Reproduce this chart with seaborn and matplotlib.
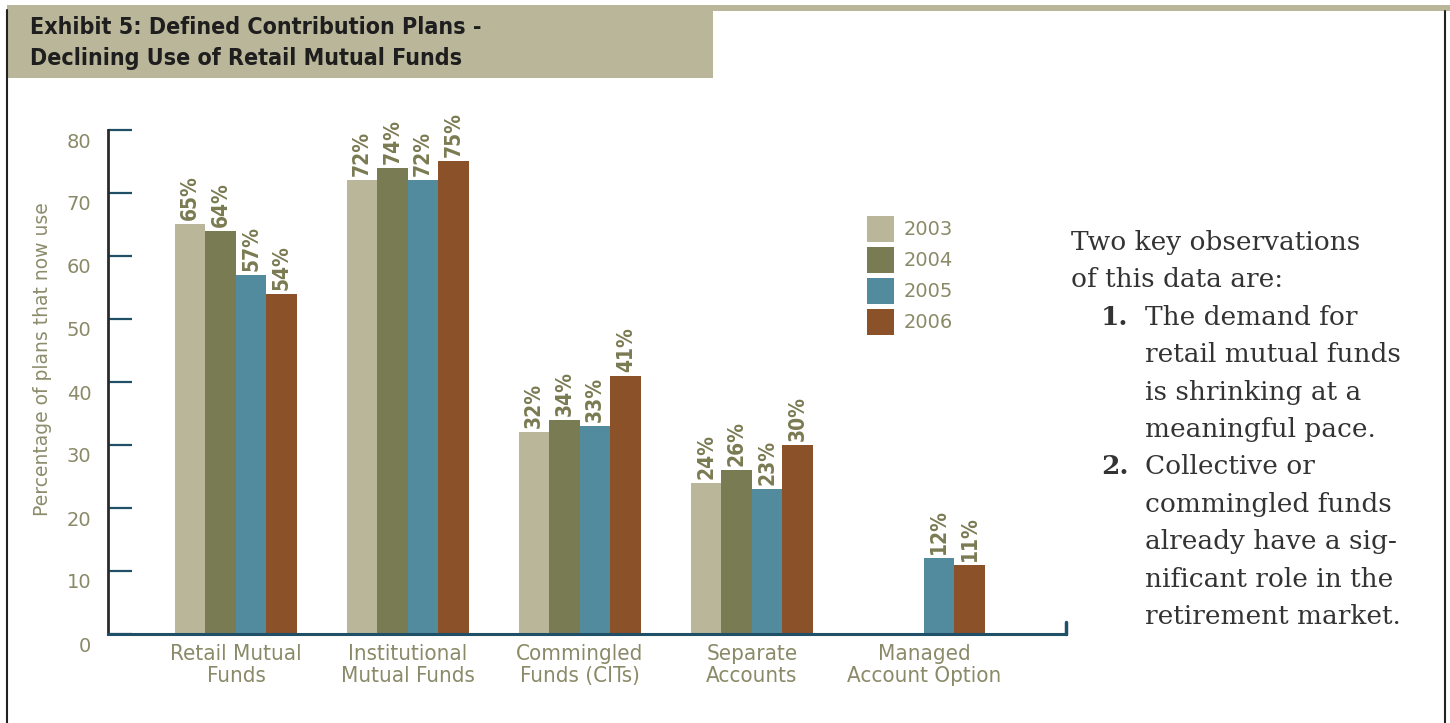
import seaborn as sns
import matplotlib.pyplot as plt
import matplotlib.transforms as mtransforms
from matplotlib.patches import Rectangle, Patch
from matplotlib.lines import Line2D
import pandas as pd

# Data
categories = ['Retail Mutual\nFunds', 'Institutional\nMutual Funds', 'Commingled\nFunds (CITs)',
              'Separate\nAccounts', 'Managed\nAccount Option']
years = ['2003', '2004', '2005', '2006']
use_2003 = [65, 72, 32, 24, None]
use_2004 = [64, 74, 34, 26, None]
use_2005 = [57, 72, 33, 23, 12]
use_2006 = [54, 75, 41, 30, 11]
colors = ['#bab699', '#797b52', '#528a9e', '#8b5128']

rows = []
for year, vals in zip(years, [use_2003, use_2004, use_2005, use_2006]):
    for cat, v in zip(categories, vals):
        if v is not None:
            rows.append({'Category': cat, 'Year': year, 'Value': v})
data = pd.DataFrame(rows)

sns.set_style('white')
plt.rcParams['font.family'] = ['DejaVu Sans']
cond = dict(family=['DejaVu Sans'], fontstretch='condensed')

W, H = 1450, 723
fig = plt.figure(figsize=(W / 100, H / 100), dpi=100)
ax = fig.add_axes([108 / W, 1 - 634 / H, (1066 - 108) / W, (634 - 130) / H])

sns.barplot(data=data, x='Category', y='Value', hue='Year', order=categories, hue_order=years,
            palette=colors, saturation=1, width=0.71, errorbar=None, linewidth=0,
            legend=False, ax=ax)

# value labels
label_col = '#7a7a52'
for c in ax.containers:
    ax.bar_label(c, labels=[f'{b.get_height():.0f}%' for b in c], rotation=90, padding=3,
                 color=label_col, fontsize=15, fontweight='bold', **cond)

ax.set_ylim(0, 80)
ax.set_xlim(-0.744, 4.826)
ax.set_yticks(range(0, 81, 10))
ax.set_xlabel('')
ax.set_ylabel('Percentage of plans that now use', color='#8c8c6c', fontsize=13.5)
ax.yaxis.set_label_coords(-0.058, 0.546)

tick_col = '#8a8a68'
ax.tick_params(axis='y', direction='in', length=17, width=1.6, color='#1f5068',
               labelsize=14, labelcolor=tick_col, pad=12, left=True)
ax.tick_params(axis='x', length=0, pad=7, labelsize=16, labelcolor=tick_col)
for lbl in ax.get_xticklabels():
    lbl.set_fontstretch('condensed')
    lbl.set_linespacing(1.15)
for lbl in ax.get_yticklabels():
    lbl.set_transform(lbl.get_transform() + mtransforms.ScaledTranslation(0, -0.10, fig.dpi_scale_trans))

for s in ['top', 'right']:
    ax.spines[s].set_visible(False)
ax.spines['left'].set_color('#2b2b2b')
ax.spines['left'].set_linewidth(2)
ax.spines['bottom'].set_color('#1f5068')
ax.spines['bottom'].set_linewidth(2.2)
ax.axvline(ax.get_xlim()[1], ymin=0, ymax=0.024, color='#1f5068', lw=2.5, clip_on=False)

# legend
handles = [Patch(facecolor=c, edgecolor='none', label=y) for c, y in zip(colors, years)]
leg = ax.legend(handles=handles, loc='upper left', bbox_to_anchor=(867 / W, 1 - 216 / H),
                bbox_transform=fig.transFigure, frameon=False, fontsize=14,
                handlelength=1.38, handleheight=1.68, handletextpad=0.5,
                labelspacing=0.26, borderpad=0, borderaxespad=0)
for t in leg.get_texts():
    t.set_color(tick_col)

# frame and title box
box_col = '#bab69a'
fig.patches.append(Rectangle((7 / W, 1 - 78 / H), (713 - 7) / W, (78 - 5) / H,
                             transform=fig.transFigure, facecolor=box_col, edgecolor='none'))
fig.patches.append(Rectangle((713 / W, 1 - 11 / H), (W - 713) / W, 6 / H,
                             transform=fig.transFigure, facecolor=box_col, edgecolor='none'))
fig.lines.append(Line2D([7 / W, 7 / W], [0, 1 - 10 / H], transform=fig.transFigure,
                        color='#222222', lw=1.5))
fig.lines.append(Line2D([1445 / W, 1445 / W], [0, 1 - 11 / H], transform=fig.transFigure,
                        color='#222222', lw=1.5))

fig.text(30 / W, 1 - 27 / H, 'Exhibit 5: Defined Contribution Plans -', fontsize=16.7,
         fontweight='bold', color='#1e1e1e', va='center', **cond)
fig.text(30 / W, 1 - 58 / H, 'Declining Use of Retail Mutual Funds', fontsize=16.7,
         fontweight='bold', color='#1e1e1e', va='center', **cond)

# side notes
intro = ['Two key observations', 'of this data are:']
items = [('1.', ['The demand for', 'retail mutual funds', 'is shrinking at a', 'meaningful pace.']),
         ('2.', ['Collective or', 'commingled funds', 'already have a sig-', 'nificant role in the',
                 'retirement market.'])]
note_kw = dict(fontsize=19, family=['DejaVu Serif'], color='#333333', va='baseline')
base, step = 250, 37.4
line = 0
for s in intro:
    fig.text(1071 / W, 1 - (base + line * step) / H, s, **note_kw)
    line += 1
for num, lines in items:
    fig.text(1101 / W, 1 - (base + line * step) / H, num, fontweight='bold', **note_kw)
    for s in lines:
        fig.text(1145 / W, 1 - (base + line * step) / H, s, **note_kw)
        line += 1

fig.savefig('out.png', dpi=100)
